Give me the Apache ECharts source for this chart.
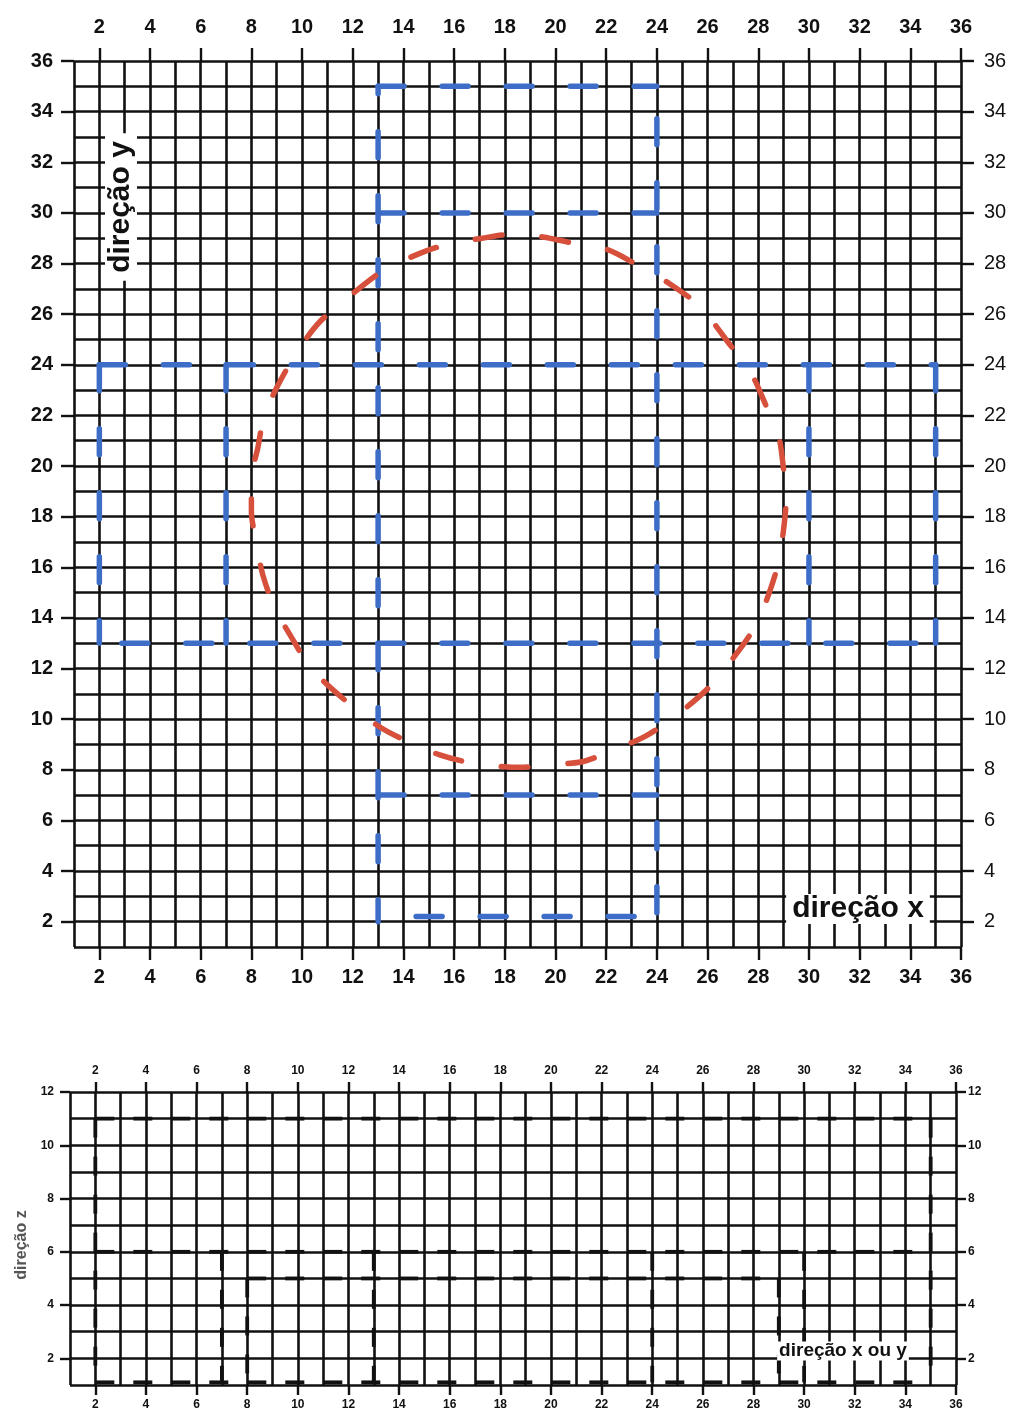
<!DOCTYPE html>
<html>
<head>
<meta charset="utf-8">
<script src="https://cdn.jsdelivr.net/npm/echarts@6/dist/echarts.min.js"></script>
<style>
html, body { margin: 0; padding: 0; background: #fff; }
#chart { width: 1016px; height: 1413px; }
</style>
</head>
<body>
<div id="chart"></div>
<script>
// planta (x, y) e corte (x ou y, z)
const planTicks = [2, 4, 6, 8, 10, 12, 14, 16, 18, 20, 22, 24, 26, 28, 30, 32, 34, 36]
const zTicks = [2, 4, 6, 8, 10, 12]

// contorno azul da planta, cada trecho [x0, y0, x1, y1]
const planBlue = [
  [13, 35, 24, 35],
  [13, 30, 24, 30],
  [2, 24, 35, 24],
  [2, 13, 35, 13],
  [13, 7, 24, 7],
  [13, 2.2, 24, 2.2],
  [2, 24, 2, 13],
  [7, 24, 7, 13],
  [13, 35, 13, 2],
  [24, 35, 24, 2.3],
  [30, 24, 30, 13],
  [35, 24, 35, 13]
]

// anel vermelho tracejado (x, y)
const planRed = [
  [12.06, 26.86], [13.17, 27.7], [14.55, 28.36], [15.7, 28.75], [17.1, 29.0],
  [18.2, 29.15], [19.5, 29.05], [20.7, 28.8], [22.05, 28.55], [23.2, 27.96],
  [24.5, 27.2], [25.7, 26.3], [26.8, 24.9], [27.7, 23.7], [28.3, 22.4],
  [28.8, 21.2], [29.0, 19.85], [29.1, 18.7], [29.0, 17.5], [28.8, 16.2],
  [28.4, 14.9], [27.9, 13.7], [27.0, 12.4], [26.0, 11.2], [24.7, 10.1],
  [23.5, 9.3], [22.3, 8.8], [21.1, 8.33], [19.7, 8.2], [18.6, 8.1],
  [16.7, 8.27], [15.4, 8.6], [14.2, 9.1], [13.05, 9.7], [11.75, 10.7],
  [10.4, 11.96], [9.6, 13.2], [8.9, 14.45], [8.45, 15.7], [8.2, 16.97],
  [8.0, 18.2], [8.0, 19.5], [8.25, 20.7], [8.5, 21.95], [9.0, 23.1],
  [9.8, 24.5], [10.7, 25.7], [12.06, 26.86]
]

// linhas do corte, cada trecho [x0, z0, x1, z1]
const sectionLines = [
  [2, 11, 35, 11],
  [2, 6, 35, 6],
  [8, 5, 29, 5],
  [2, 1.1, 35, 1.1],
  [2, 11, 2, 1.1],
  [7, 6, 7, 1.1],
  [8, 5, 8, 1.1],
  [13, 6, 13, 1.1],
  [24, 6, 24, 1.1],
  [29, 5, 29, 1.1],
  [30, 6, 30, 1.1],
  [35, 11, 35, 1.1]
]

const ink = '#111'
const blue = '#3d6dc6'
const red = '#d6503c'
const font = '"Liberation Sans", Arial, sans-serif'
// deslocamento do tracejado azul por trecho (mesma ordem de planBlue)
const blueDashShift = [0, 0, 0, 41.5, 0, 26, 0, 0, 18.5, 31.5, 0, 0]

const chart = echarts.init(document.getElementById('chart'))

// eixo só com as linhas da malha (de 1 em 1)
const gridAxis = (gridIndex, min, max, position, w) => ({
  gridIndex, type: 'value', min, max, interval: 1, position,
  axisLine: { show: false, onZero: false },
  axisTick: { show: false },
  axisLabel: { show: false },
  splitLine: { show: true, lineStyle: { color: ink, width: w } }
})

// eixo só com marcas e números pares
const tickAxis = (gridIndex, min, max, position, ticks, len, margin, size, weight) => ({
  gridIndex, type: 'value', min, max, position,
  axisLine: { show: false, onZero: false },
  axisTick: { show: true, customValues: ticks, length: len, lineStyle: { color: ink, width: 2.4 } },
  axisLabel: { customValues: ticks, margin, fontSize: size, fontWeight: weight, color: '#111', fontFamily: font },
  splitLine: { show: false }
})

const series = []

planBlue.forEach((s, i) => {
  series.push({
    type: 'line', xAxisIndex: 0, yAxisIndex: 0,
    data: [[s[0], s[1]], [s[2], s[3]]],
    symbol: 'none', silent: true, z: 3,
    lineStyle: { color: blue, width: 5.5, type: [26, 38], dashOffset: blueDashShift[i], cap: 'round' }
  })
})

series.push({
  type: 'line', xAxisIndex: 0, yAxisIndex: 0,
  data: planRed, smooth: 0.3,
  symbol: 'none', silent: true, z: 4,
  lineStyle: { color: red, width: 5.5, type: [27, 40], cap: 'round' }
})

sectionLines.forEach(s => {
  series.push({
    type: 'line', xAxisIndex: 3, yAxisIndex: 3,
    data: [[s[0], s[1]], [s[2], s[3]]],
    symbol: 'none', silent: true, z: 3,
    lineStyle: { color: ink, width: 3.8, type: [19, 19] }
  })
})

const option = {
  backgroundColor: '#fff',
  animation: false,
  grid: [
    { left: 74, top: 61, width: 887, height: 886 },
    { left: 70, top: 1092, width: 886, height: 293 }
  ],
  xAxis: [
    gridAxis(0, 1, 36, 'bottom', 2.6),
    tickAxis(0, 1, 36, 'bottom', planTicks, 13, 20, 20, 'bold'),
    tickAxis(0, 1, 36, 'top', planTicks, 13, 24, 20, 'bold'),
    gridAxis(1, 1, 36, 'bottom', 2.6),
    tickAxis(1, 1, 36, 'bottom', planTicks, 10, 14, 12, 'bold'),
    tickAxis(1, 1, 36, 'top', planTicks, 10, 15, 12, 'bold')
  ],
  yAxis: [
    gridAxis(0, 1, 36, 'left', 2.6),
    tickAxis(0, 1, 36, 'left', planTicks, 13, 21, 20, 'bold'),
    tickAxis(0, 1, 36, 'right', planTicks, 13, 23, 20, 'normal'),
    gridAxis(1, 1, 12, 'left', 2.6),
    tickAxis(1, 1, 12, 'left', zTicks, 10, 16, 12, 'bold'),
    tickAxis(1, 1, 12, 'right', zTicks, 10, 12, 12, 'bold')
  ],
  graphic: [
    {
      type: 'text', x: 121, y: 207, rotation: Math.PI / 2, z: 100,
      style: {
        text: 'direção y', fontSize: 30, fontWeight: 'bold', fontFamily: font,
        fill: '#111', align: 'center', verticalAlign: 'middle',
        backgroundColor: '#fff', padding: [1, 8]
      }
    },
    {
      type: 'text', x: 858, y: 909, z: 100,
      style: {
        text: 'direção x', fontSize: 30, fontWeight: 'bold', fontFamily: font,
        fill: '#111', align: 'center', verticalAlign: 'middle',
        backgroundColor: '#fff', padding: [0, 6]
      }
    },
    {
      type: 'text', x: 22, y: 1245, rotation: Math.PI / 2, z: 100,
      style: {
        text: 'direção z', fontSize: 16, fontWeight: 'bold', fontFamily: font,
        fill: '#555', align: 'center', verticalAlign: 'middle'
      }
    },
    {
      type: 'text', x: 843, y: 1351, z: 100,
      style: {
        text: 'direção x ou y', fontSize: 19, fontWeight: 'bold', fontFamily: font,
        fill: '#111', align: 'center', verticalAlign: 'middle',
        backgroundColor: '#fff', padding: [0, 2]
      }
    }
  ],
  series
}

chart.setOption(option)
</script>
</body>
</html>
